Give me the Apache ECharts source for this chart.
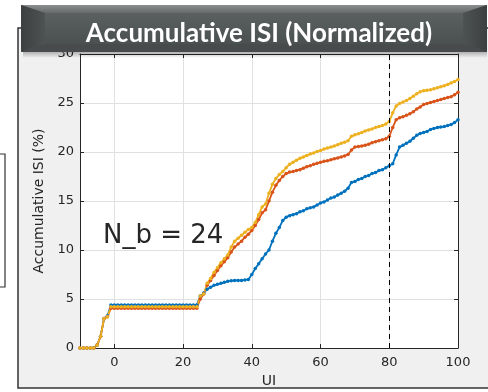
<!DOCTYPE html>
<html><head><meta charset="utf-8">
<script src="https://cdn.jsdelivr.net/npm/echarts@6/dist/echarts.min.js"></script>
<style>html,body{margin:0;padding:0;background:#fff}#c{width:488px;height:392px}</style>
</head><body><div id="c"></div>
<script>
const ui = [-10,-9,-8,-7,-6,-5,-4,-3,-2,-1,0,1,2,3,4,5,6,7,8,9,10,11,12,13,14,15,16,17,18,19,20,21,22,23,24,25,26,27,28,29,30,31,32,33,34,35,36,37,38,39,40,41,42,43,44,45,46,47,48,49,50,51,52,53,54,55,56,57,58,59,60,61,62,63,64,65,66,67,68,69,70,71,72,73,74,75,76,77,78,79,80,81,82,83,84,85,86,87,88,89,90,91,92,93,94,95,96,97,98,99,100];
const blue = [0,0,0,0,0,0.3,1.2,3.0,3.3,4.4,
  4.4,4.4,4.4,4.4,4.4,4.4,4.4,4.4,4.4,4.4,4.4,4.4,4.4,4.4,4.4,4.4,4.4,4.4,4.4,4.4,4.4,4.4,4.4,4.4,4.4,
  5.3,5.6,6.0,6.2,6.4,6.5,6.6,6.7,6.8,6.85,6.9,6.9,6.9,6.95,7.0,7.5,8.1,8.6,9.1,9.6,10.0,10.9,11.7,12.3,13.0,
  13.35,13.5,13.6,13.7,13.9,14.0,14.2,14.3,14.4,14.6,14.8,14.9,15.1,15.3,15.4,15.6,15.8,16.0,16.3,16.9,
  17.0,17.2,17.3,17.5,17.6,17.8,17.9,18.1,18.2,18.4,18.6,18.8,19.7,20.5,20.7,20.9,21.1,21.4,21.7,21.9,
  22.0,22.1,22.3,22.4,22.5,22.55,22.6,22.7,22.8,23.0,23.3];
const orange = [0,0,0,0,0,0.3,1.2,3.0,3.2,4.05,
  4.05,4.05,4.05,4.05,4.05,4.05,4.05,4.05,4.05,4.05,4.05,4.05,4.05,4.05,4.05,4.05,4.05,4.05,4.05,4.05,4.05,4.05,4.05,4.05,4.05,
  5.0,5.5,6.4,6.9,7.4,7.9,8.4,8.8,9.2,9.8,10.3,10.6,10.9,11.3,11.6,12.0,12.5,13.1,13.8,14.1,15.0,15.9,16.6,17.1,17.5,
  17.8,17.95,18.0,18.1,18.2,18.35,18.5,18.6,18.75,18.85,18.95,19.05,19.1,19.2,19.3,19.4,19.5,19.6,19.75,20.2,
  20.5,20.55,20.6,20.7,20.8,20.95,21.05,21.15,21.25,21.35,21.6,22.5,23.3,23.5,23.6,23.75,23.9,24.1,24.4,24.6,
  24.85,24.95,25.05,25.15,25.25,25.35,25.45,25.55,25.65,25.85,26.1];
const yellow = [0,0,0,0,0,0.3,1.2,3.0,3.2,4.2,
  4.2,4.2,4.2,4.2,4.2,4.2,4.2,4.2,4.2,4.2,4.2,4.2,4.2,4.2,4.2,4.2,4.2,4.2,4.2,4.2,4.2,4.2,4.2,4.2,4.2,
  5.3,5.5,6.6,7.1,7.7,8.2,8.7,9.1,9.5,10.3,10.9,11.2,11.5,11.8,12.1,12.3,12.8,13.6,14.4,14.7,15.8,16.7,17.3,17.7,18.0,
  18.4,18.75,18.95,19.15,19.35,19.5,19.65,19.8,19.9,20.05,20.15,20.3,20.4,20.5,20.6,20.75,20.9,21.0,21.15,21.6,
  21.75,21.85,22.0,22.15,22.25,22.35,22.5,22.6,22.7,22.85,23.1,24.0,24.7,24.95,25.1,25.25,25.45,25.7,25.95,26.15,
  26.25,26.3,26.35,26.45,26.55,26.65,26.75,26.9,27.05,27.2,27.4];
const xTicks = [0,20,40,60,80,100];
const markerX = 80;
const titleText = 'Accumulative ISI (Normalized)';
const annotation = 'N_b = 24';

const pairs = arr => ui.map((x,i)=>[x,arr[i]]);
const chart = echarts.init(document.getElementById('c'), null, {renderer:'canvas'});
const axisColor = '#262626';
const gridColor = '#e0e0e0';
const font = 'DejaVu Sans';
function mkSeries(name, arr, color){
  return {name, type:'line', data:pairs(arr), xAxisIndex:0, yAxisIndex:0,
    symbol:'circle', symbolSize:3.5, showSymbol:true,
    lineStyle:{color, width:1.8}, itemStyle:{color}, animation:false, z:3};
}
const s1 = mkSeries('a', blue, '#0072BD');
const s2 = mkSeries('b', orange, '#D95319');
const s3 = mkSeries('c', yellow, '#EDB120');
s1.markLine = {silent:true, symbol:'none', label:{show:false},
  lineStyle:{color:'#000', type:[5,4], width:1}, data:[{xAxis:markerX}]};
chart.setOption({
  backgroundColor:'#fff',
  animation:false,
  grid:{left:80, right:30, top:54, bottom:44, show:true, backgroundColor:'#fff', borderWidth:0,
    containLabel:false, outerBoundsMode:'none'},
  xAxis:[{type:'value', min:-10, max:100, position:'bottom',
    name:'UI', nameLocation:'middle', nameGap:26, nameTextStyle:{color:axisColor, fontFamily:font, fontSize:14},
    axisLine:{show:true, onZero:false, lineStyle:{color:axisColor, width:1}},
    axisTick:{show:true, inside:true, length:4, customValues:xTicks, lineStyle:{color:axisColor}},
    axisLabel:{customValues:xTicks, color:axisColor, fontFamily:font, fontSize:13, margin:8},
    splitLine:{show:true, lineStyle:{color:gridColor, width:1}}},
   {type:'value', min:-10, max:100, position:'top',
    axisLine:{show:true, onZero:false, lineStyle:{color:axisColor, width:1}},
    axisTick:{show:true, inside:true, length:4, customValues:xTicks, lineStyle:{color:axisColor}},
    axisLabel:{show:false}, splitLine:{show:false}}],
  yAxis:[{type:'value', min:0, max:30, interval:5, position:'left',
    name:'Accumulative ISI (%)', nameLocation:'middle', nameGap:26, nameRotate:90,
    nameTextStyle:{color:axisColor, fontFamily:font, fontSize:14},
    axisLine:{show:true, onZero:false, lineStyle:{color:axisColor, width:1}},
    axisTick:{show:true, inside:true, length:4, lineStyle:{color:axisColor}},
    axisLabel:{color:axisColor, fontFamily:font, fontSize:13, margin:6},
    splitLine:{show:true, lineStyle:{color:gridColor, width:1}}},
   {type:'value', min:0, max:30, interval:5, position:'right',
    axisLine:{show:true, onZero:false, lineStyle:{color:axisColor, width:1}},
    axisTick:{show:true, inside:true, length:4, lineStyle:{color:axisColor}},
    axisLabel:{show:false}, splitLine:{show:false}}],
  series:[s1,s2,s3],
  graphic:[
    {type:'rect', z:-10, silent:true, shape:{x:18, y:28, width:490, height:360},
      style:{fill:'#f0f0f0', stroke:'#333', lineWidth:1.5}},
    {type:'rect', z:-10, silent:true, shape:{x:-5, y:154, width:10, height:133},
      style:{fill:'#fff', stroke:'#333', lineWidth:1.2}},
    {type:'text', z:50, silent:true, x:103, y:236,
      style:{text:annotation, fill:'#262626', font:'26px "DejaVu Sans"', textVerticalAlign:'middle'}},
    // banner shadow
    {type:'rect', z:90, silent:true, shape:{x:23, y:50, width:464, height:8},
      style:{fill:new echarts.graphic.LinearGradient(0,0,0,1,[{offset:0,color:'rgba(0,0,0,0.35)'},{offset:1,color:'rgba(0,0,0,0)'}])}},
    {type:'rect', z:91, silent:true, shape:{x:21, y:5, width:466, height:47},
      style:{fill:'#555a5b'}},
    {type:'polygon', z:92, silent:true, shape:{points:[[21,5],[487,5],[463,13],[45,13]]},
      style:{fill:new echarts.graphic.LinearGradient(0,0,0,1,[{offset:0,color:'#8a8e8e'},{offset:1,color:'#666a6b'}])}},
    {type:'polygon', z:92, silent:true, shape:{points:[[21,5],[45,13],[45,44],[21,52]]},
      style:{fill:new echarts.graphic.LinearGradient(0,0,1,0,[{offset:0,color:'#3c4041'},{offset:1,color:'#4d5253'}])}},
    {type:'polygon', z:92, silent:true, shape:{points:[[487,5],[463,13],[463,44],[487,52]]},
      style:{fill:new echarts.graphic.LinearGradient(0,0,1,0,[{offset:0,color:'#4d5253'},{offset:1,color:'#3c4041'}])}},
    {type:'polygon', z:92, silent:true, shape:{points:[[21,52],[45,44],[463,44],[487,52]]},
      style:{fill:'#474b4c'}},
    {type:'rect', z:92, silent:true, shape:{x:45, y:13, width:418, height:31},
      style:{fill:new echarts.graphic.LinearGradient(0,0,0,1,[{offset:0,color:'#5a5f60'},{offset:1,color:'#4b5051'}])}},
    {type:'text', z:95, silent:true, x:259, y:34,
      style:{text:titleText, fill:'#fff', font:'bold 26px Lato', textAlign:'center', textVerticalAlign:'middle'}}
  ]
});
</script></body></html>
